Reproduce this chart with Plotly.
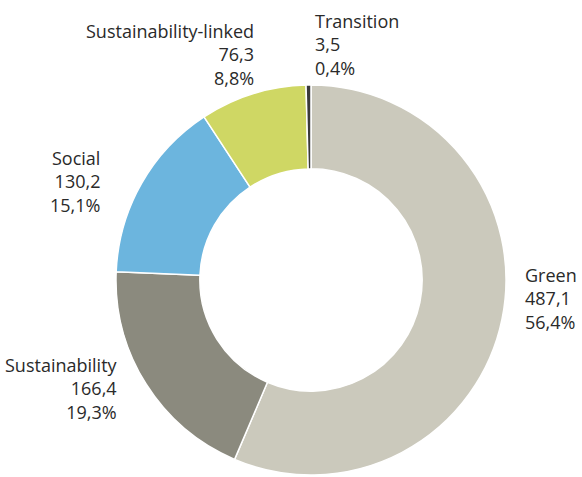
import plotly.graph_objects as go

categories = ["Green", "Sustainability", "Social", "Sustainability-linked", "Transition"]
values = [487.1, 166.4, 130.2, 76.3, 3.5]
colors = ["#cbc9bc", "#8b8a7e", "#6cb5de", "#cfd764", "#3a3a3a"]

W, H = 582, 477
total = sum(values)

def fmt(v, d=1):
    return f"{v:.{d}f}".replace(".", ",")

fig = go.Figure(go.Pie(
    labels=categories,
    values=values,
    sort=False,
    direction="clockwise",
    rotation=0,
    hole=0.57,
    marker=dict(colors=colors, line=dict(color="white", width=1.5)),
    textinfo="none",
    hoverinfo="label+value+percent",
    domain=dict(x=[114 / W, 508 / W], y=[2 / H, 392 / H]),
    showlegend=False,
))

# label placement (pixel anchor, xanchor, align)
label_pos = {
    "Green": (523, 261, "left"),
    "Sustainability": (120, 351, "right"),
    "Social": (102, 144, "right"),
    "Sustainability-linked": (256, 17, "right"),
    "Transition": (313, 7, "left"),
}

for cat, v in zip(categories, values):
    x, y, side = label_pos[cat]
    txt = f"{cat}<br>{fmt(v)}<br>{fmt(v / total * 100)}%"
    fig.add_annotation(
        x=x / W, y=1 - y / H, xref="paper", yref="paper",
        xanchor=side, yanchor="top", align=side,
        text=txt, showarrow=False,
        font=dict(family="Open Sans", size=18, color="#2a2a2a"),
    )

fig.update_layout(
    width=W, height=H,
    margin=dict(l=0, r=0, t=0, b=0),
    paper_bgcolor="white",
    plot_bgcolor="white",
)

fig.write_html("out.html")
